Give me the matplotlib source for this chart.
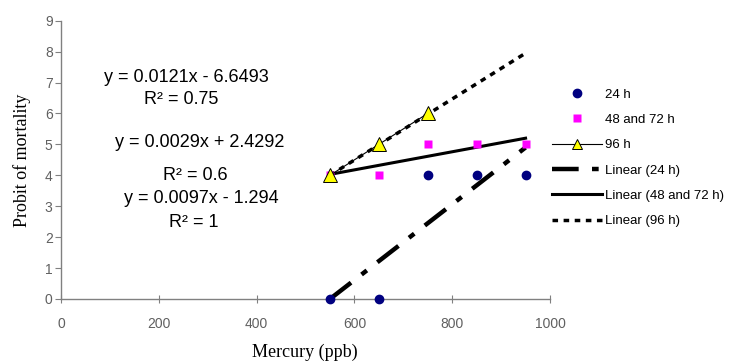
import matplotlib
matplotlib.use("Agg")
import matplotlib.pyplot as plt
from matplotlib.lines import Line2D

# Data
x_24 = [550, 650, 750, 850, 950]
y_24 = [0, 0, 4, 4, 4]
x_4872 = [550, 650, 750, 850, 950]
y_4872 = [4, 4, 5, 5, 5]
x_96 = [550, 650, 750]
y_96 = [4, 5, 6]

# Trend lines (read endpoints)
trend_x = [550, 950]
trend_24 = [0.0, 4.9]
trend_4872 = [4.03, 5.2]
trend_96 = [4.0, 7.95]

eq_texts = ["y = 0.0121x - 6.6493", "R\u00b2 = 0.75",
            "y = 0.0029x + 2.4292", "R\u00b2 = 0.6",
            "y = 0.0097x - 1.294", "R\u00b2 = 1"]

x_ticks = [0, 200, 400, 600, 800, 1000]
y_ticks = list(range(0, 10))

plt.rcParams['font.family'] = ['Liberation Sans', 'DejaVu Sans']

fig = plt.figure(figsize=(7.31, 3.64), dpi=100)
ax = fig.add_axes([0.0834, 0.1786, 0.669, 0.7645])

ax.plot(trend_x, trend_24, color='black', lw=3.2, dashes=(6, 3, 1.5, 3), zorder=2)
ax.plot(trend_x, trend_4872, color='black', lw=2.2, zorder=2)
ax.plot(trend_x, trend_96, color='black', lw=2.5, dashes=(1.6, 1.6), zorder=2)

ax.plot(x_24, y_24, 'o', color='#000080', ms=6, zorder=3, clip_on=False)
ax.plot(x_4872, y_4872, 's', color='#FF00FF', ms=6, mec='none', zorder=3, clip_on=False)
ax.plot(x_96, y_96, '-^', color='black', lw=0.8, mfc='#FFFF00', mec='black', mew=0.7,
        ms=10, zorder=4, clip_on=False)

ax.set_xlim(0, 1000)
ax.set_ylim(0, 9)
ax.set_xticks(x_ticks)
ax.set_yticks(y_ticks)

for s in ['top', 'right']:
    ax.spines[s].set_visible(False)
for s in ['left', 'bottom']:
    ax.spines[s].set_color('#808080')
    ax.spines[s].set_linewidth(1.0)

ax.tick_params(axis='y', direction='out', length=4, color='#808080', labelsize=10,
               labelcolor='#606060', pad=2)
ax.tick_params(axis='x', direction='inout', length=6, color='#808080', labelsize=10,
               labelcolor='#606060', pad=10)

ax.set_ylabel('Probit of mortality', family='Liberation Serif', fontsize=13, labelpad=10)
fig.text(305 / 731, 1 - 352 / 364, 'Mercury (ppb)', family='Liberation Serif', fontsize=13,
         ha='center', va='center')

eq_pos = [(186, 77), (181, 100), (200, 143), (195, 175), (201, 199), (194, 222)]
for t, (px, py) in zip(eq_texts, eq_pos):
    fig.text(px / 731, 1 - py / 364, t, fontsize=13, ha='center', va='center')

handles = [
    Line2D([], [], ls='none', marker='o', color='#000080', ms=6),
    Line2D([], [], ls='none', marker='s', color='#FF00FF', mec='none', ms=6),
    Line2D([], [], color='black', lw=0.8, marker='^', mfc='#FFFF00', mec='black', mew=0.7, ms=7),
    Line2D([], [], color='black', lw=3.2, dashes=(6, 3, 1.5, 3)),
    Line2D([], [], color='black', lw=2.2),
    Line2D([], [], color='black', lw=2.5, dashes=(1.6, 1.6)),
]
labels = ['24 h', '48 and 72 h', '96 h', 'Linear (24 h)', 'Linear (48 and 72 h)', 'Linear (96 h)']
fig.legend(handles, labels, loc='upper left', bbox_to_anchor=(552 / 731, 1 - 88.5 / 364),
           frameon=False, fontsize=9.5, handlelength=3.8, handletextpad=0.2,
           labelspacing=0.99, borderpad=0, borderaxespad=0)

fig.savefig('out.png', dpi=100)
